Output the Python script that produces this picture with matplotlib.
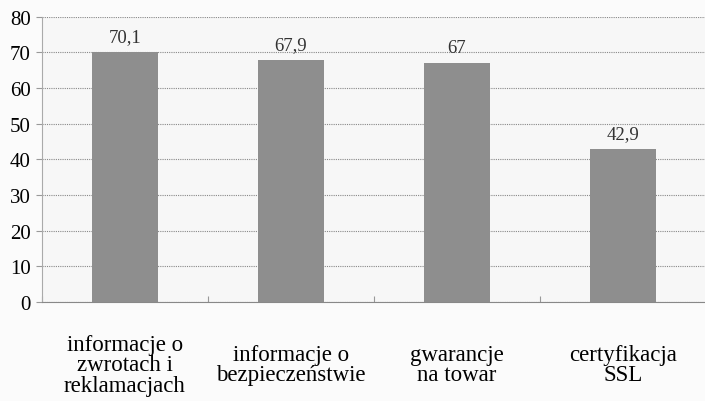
import matplotlib
matplotlib.use("Agg")
import matplotlib.pyplot as plt
import matplotlib.transforms as mtransforms

categories = ["informacje o\nzwrotach i\nreklamacjach",
              "informacje o\nbezpieczeństwie",
              "gwarancje\nna towar",
              "certyfikacja\nSSL"]
values = [70.1, 67.9, 67, 42.9]
value_labels = ["70,1", "67,9", "67", "42,9"]
yticks = [0, 10, 20, 30, 40, 50, 60, 70, 80]

plt.rcParams['font.family'] = ['Liberation Serif', 'DejaVu Serif']

fig = plt.figure(figsize=(7.05, 4.02), dpi=100)
fig.patch.set_facecolor('#fbfbfb')
ax = fig.add_axes([42/705, 99/402, 664/705, 285.5/402])
ax.set_facecolor('#f7f7f7')

x = list(range(len(categories)))
bars = ax.bar(x, values, width=0.4, color='#8e8e8e', zorder=3)
for xi, v, lab in zip(x, values, value_labels):
    ax.text(xi, v + 1.8, lab, ha='center', va='bottom', fontsize=13.5, color='#333333')

ax.set_xlim(-0.5, 3.5)
ax.set_ylim(0, 80)
ax.set_yticks(yticks)
ax.set_yticklabels([str(t) for t in yticks], fontsize=15)
ax.yaxis.grid(True, linestyle=(0, (1, 1)), color='#888888', linewidth=0.8, zorder=0)
ax.set_xticks([-0.5, 0.5, 1.5, 2.5, 3.5])
ax.set_xticklabels([])
ax.tick_params(axis='x', length=4, color='#999999', direction='in')
ax.tick_params(axis='y', length=4, color='#999999', pad=4)
for s in ['top', 'right']:
    ax.spines[s].set_visible(False)
ax.spines['left'].set_color('#aaaaaa')
ax.spines['left'].set_linestyle((0, (1, 1)))
ax.spines['bottom'].set_color('#888888')
ax.spines['bottom'].set_linestyle((0, (1, 1)))

trans = mtransforms.blended_transform_factory(ax.transData, ax.transAxes)
for xi, lab in zip(x, categories):
    ax.text(xi, -0.22, lab, transform=trans, ha='center', va='center',
            fontsize=16.5, linespacing=0.95)

fig.savefig('out.png', dpi=100, facecolor=fig.get_facecolor())
